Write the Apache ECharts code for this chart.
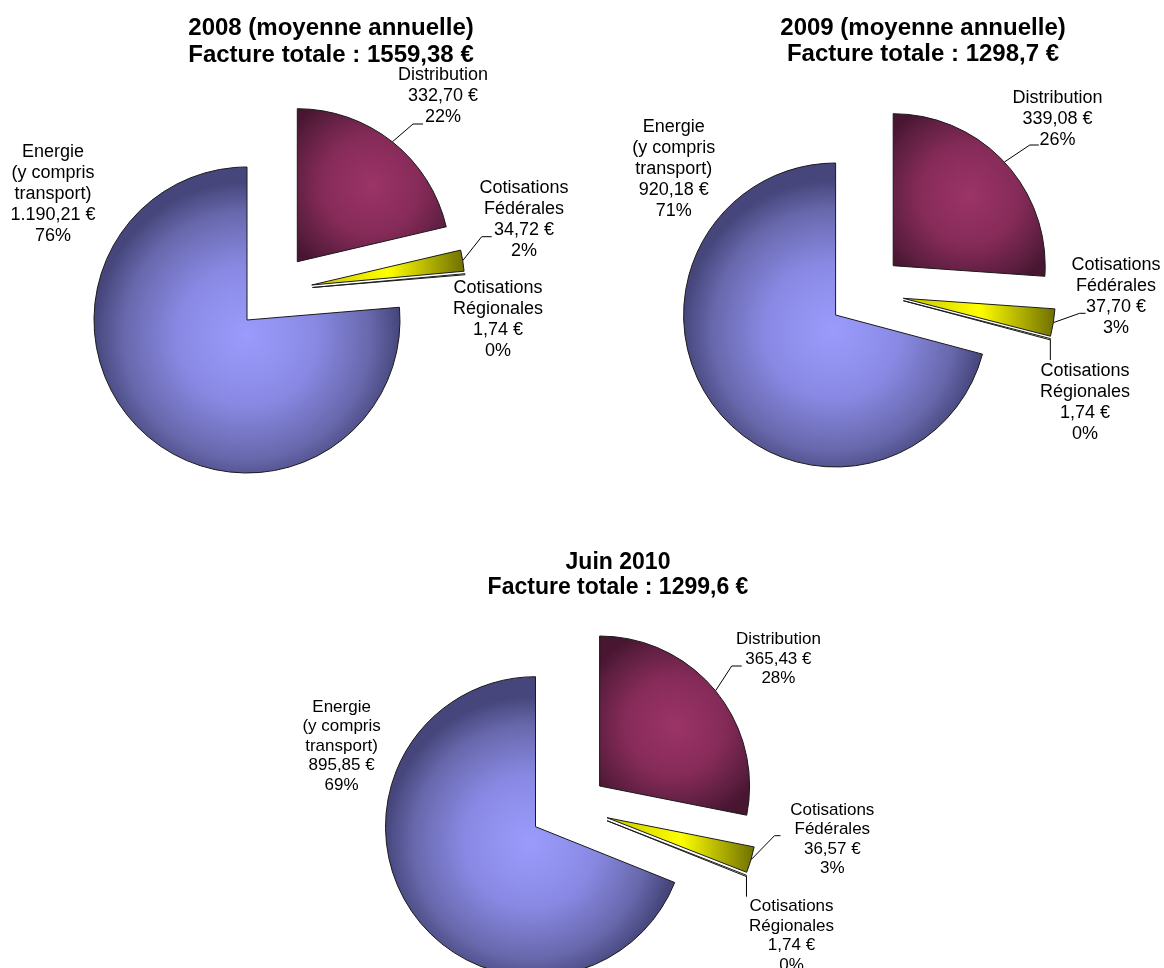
<!DOCTYPE html>
<html>
<head>
<meta charset="utf-8">
<script src="https://cdn.jsdelivr.net/npm/echarts@6/dist/echarts.min.js"></script>
<style>html,body{margin:0;padding:0;background:#fff;}#chart{width:1164px;height:968px;}</style>
</head>
<body>
<div id="chart"></div>
<script>
// ---- data ----
const sliceNames = ['Distribution', 'Cotisations\nFédérales', 'Cotisations\nRégionales', 'Energie\n(y compris\ntransport)'];
const chartTitles = ['2008 (moyenne annuelle)', '2009 (moyenne annuelle)', 'Juin 2010'];
const totalLabels = ['1559,38', '1298,7', '1299,6'];
const values2008 = [332.70, 34.72, 1.74, 1190.21];
const values2009 = [339.08, 37.70, 1.74, 920.18];
const values2010 = [365.43, 36.57, 1.74, 895.85];
const pct2008 = [22, 2, 0, 76];
const pct2009 = [26, 3, 0, 71];
const pct2010 = [28, 3, 0, 69];

const allValues = [values2008, values2009, values2010];
const allPcts = [pct2008, pct2009, pct2010];

// ---- layout (positions / sizes) ----
// anchors: leader-line end relative to label centre [dx, dy, horizontal segment, vertical?]
const layouts = [
  { title: { x: 331, y: 14.5, size: 24, lh: 27 }, radius: 153, font: 18, lh: 21,
    centers: [[297.3, 261.7], [311.7, 285], [312.5, 287.5], [247, 320]],
    labels: [[443, 96], [524, 219.5], [498, 319.7], [53, 194.2]],
    anchors: [[-20, 28, 10], [-32.3, 17.2, 10], null, null] },
  { title: { x: 923, y: 15, size: 24, lh: 26 }, radius: 152, font: 18, lh: 21,
    centers: [[893.2, 265.7], [903.3, 298.3], [903.3, 300.7], [835.6, 315]],
    labels: [[1057.6, 118.7], [1116, 297], [1085, 402.5], [673.7, 169.5]],
    anchors: [[-18.8, 26.3, 9], [-30.4, 16.3, 6], [-34.7, -42.5, 0, true], null] },
  { title: { x: 618, y: 550.5, size: 23, lh: 25 }, radius: 150, font: 17, lh: 19.5,
    centers: [[599.6, 786], [607, 817.7], [607, 820.7], [535.5, 826.7]],
    labels: [[778.4, 659.2], [832.3, 839.2], [791.5, 935.9], [341.6, 745.9]],
    anchors: [[-36.7, 6.8, 10], [-51.8, -3.5, 6], [-35.5, -39.2, 0, true], null] }
];

const FONT = '"Liberation Sans", Arial, sans-serif';

const sliceStyles = [
  { color: { type: 'radial', x: 0.5, y: 0.5, r: 0.65, colorStops: [
      { offset: 0, color: '#9c3467' }, { offset: 0.5, color: '#862b59' },
      { offset: 0.85, color: '#5c1e3f' }, { offset: 1, color: '#481630' } ] },
    borderColor: '#1a1a1a', borderWidth: 1 },
  { color: { type: 'linear', x: 0, y: 0, x2: 1, y2: 0, colorStops: [
      { offset: 0, color: '#c4c400' }, { offset: 0.5, color: '#ffff00' },
      { offset: 1, color: '#6e6e00' } ] },
    borderColor: '#1a1a1a', borderWidth: 1 },
  { color: '#ffffcc', borderColor: '#1a1a1a', borderWidth: 1 },
  { color: { type: 'radial', x: 0.5, y: 0.55, r: 0.5, colorStops: [
      { offset: 0, color: '#9b9bfd' }, { offset: 0.45, color: '#8989e4' },
      { offset: 0.8, color: '#6868ad' }, { offset: 1, color: '#46467c' } ] },
    borderColor: '#1a1a1a', borderWidth: 1 }
];

function fmtEuro(v) {
  const parts = v.toFixed(2).split('.');
  const intPart = parts[0].replace(/\B(?=(\d{3})+(?!\d))/g, '.');
  return intPart + ',' + parts[1];
}

const titles = [];
const series = [];
const drawOrder = [3, 0, 1, 2];

layouts.forEach((L, c) => {
  titles.push({
    text: chartTitles[c] + '\nFacture totale : ' + totalLabels[c] + ' €',
    left: L.title.x, top: L.title.y, padding: 0,
    textAlign: 'center', textVerticalAlign: 'top',
    textStyle: { fontFamily: FONT, fontWeight: 'bold', fontSize: L.title.size,
                 lineHeight: L.title.lh, color: '#000' }
  });
  drawOrder.forEach((s) => {
    const values = allValues[c];
    const pcts = allPcts[c];
    const lab = L.labels[s];
    const anc = L.anchors[s];
    series.push({
      type: 'pie',
      center: L.centers[s],
      radius: L.radius,
      startAngle: 90,
      clockwise: true,
      minAngle: 0,
      avoidLabelOverlap: false,
      selectedMode: false,
      silent: true,
      animation: false,
      emphasis: { disabled: true, scale: false },
      data: values.map((v, i) => ({
        name: sliceNames[i],
        value: v,
        itemStyle: i === s ? sliceStyles[i] : { color: 'rgba(0,0,0,0)', borderWidth: 0 },
        label: { show: i === s },
        labelLine: { show: i === s && !!anc }
      })),
      label: {
        position: 'outside',
        fontFamily: FONT, fontSize: L.font, lineHeight: L.lh, color: '#000',
        formatter: (p) => p.name + '\n' + fmtEuro(p.value) + ' €\n' + pcts[p.dataIndex] + '%'
      },
      labelLine: { length: 10, length2: 10, smooth: false,
                   lineStyle: { color: '#000', width: 1 } },
      labelLayout: (p) => {
        const out = { x: lab[0], y: lab[1], align: 'center', verticalAlign: 'middle' };
        if (anc && p.dataIndex === s && p.labelLinePoints && p.labelLinePoints.length) {
          const start = p.labelLinePoints[0];
          const end = [lab[0] + anc[0], lab[1] + anc[1]];
          if (anc[3]) end[0] = start[0];
          const mid = [end[0] - anc[2], end[1]];
          out.labelLinePoints = [start, mid, end];
        }
        return out;
      }
    });
  });
});

const chart = echarts.init(document.getElementById('chart'), null, { renderer: 'canvas' });
chart.setOption({ backgroundColor: '#ffffff', animation: false, title: titles, series: series });
</script>
</body>
</html>
